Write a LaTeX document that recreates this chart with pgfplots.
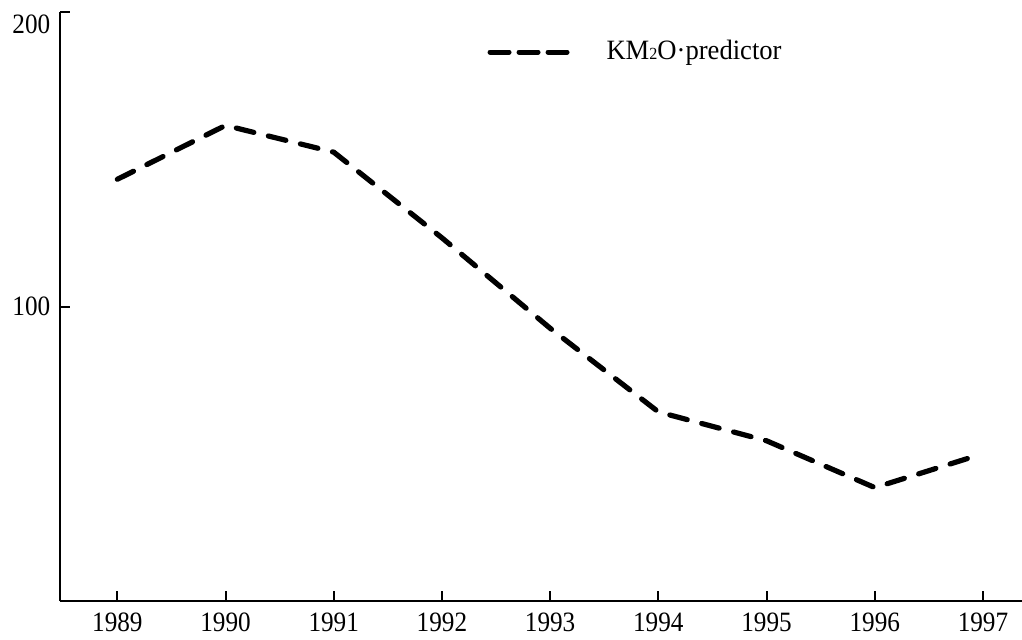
\documentclass[border=0pt]{standalone}
\usepackage{pgfplots}
\pgfplotsset{compat=1.18}
\usepackage{fontspec}
\setmainfont{Liberation Serif}[FakeStretch=0.9]
\newfontfamily\legfont{Liberation Serif}[FakeStretch=0.95]
\begin{document}
\fontsize{14pt}{16pt}\selectfont
\begin{tikzpicture}
\useasboundingbox (-30pt,-19pt) rectangle (481pt,300.5pt);
\begin{axis}[
  scale only axis,
  width=481pt, height=294.5pt,
  xmin=1988.47, xmax=1997.36,
  ymin=0, ymax=200,
  axis x line*=bottom, axis y line*=left,
  axis line style={line width=1pt},
  every tick/.style={black, line width=1pt},
  tick align=inside,
  major tick length=5pt,
  xtick={1989,...,1997},
  ytick={100},
  extra y ticks={200},
  extra y tick style={yticklabel style={anchor=north east, yshift=3.5pt}},
  xticklabel style={/pgf/number format/1000 sep={}, yshift=-1pt},
  /pgf/number format/assume math mode=true,
  ticklabel style={font=\fontsize{14pt}{16pt}\selectfont},
  legend style={draw=none, fill=none, at={(0.444,0.932)}, anchor=west, inner sep=0pt,
    font=\legfont\fontsize{14pt}{16pt}\selectfont},
  legend image code/.code={\draw[line width=2.5pt, line cap=round, dash pattern=on 9.5pt off 5pt] (0pt,0pt) -- (40pt,0pt);},
  legend cell align=left,
  clip=false,
]
\addplot[black, line width=2.6pt, line cap=round, line join=round, dash pattern=on 9pt off 7.5pt] coordinates {
  (1989,143.2) (1990,161.5) (1991,152.4) (1992,123.3) (1993,92.6)
  (1994,64.2) (1995,54.4) (1996,38.5) (1996.91,49.0)
};
\addlegendentry{\hspace{15pt}KM{\fontsize{8.5pt}{8.5pt}\selectfont 2}O·predictor}
\end{axis}
\end{tikzpicture}
\end{document}
